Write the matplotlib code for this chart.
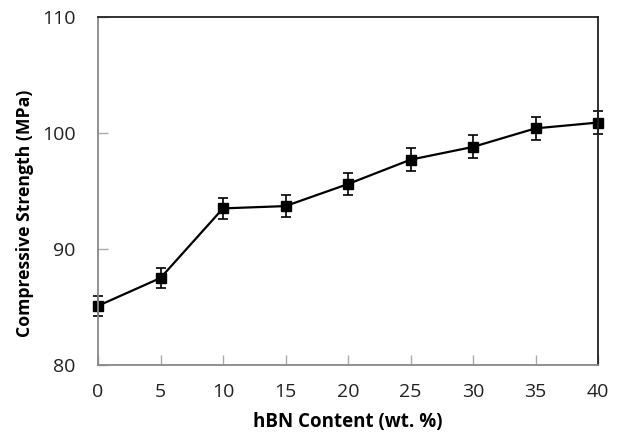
import matplotlib
matplotlib.use('Agg')
from matplotlib import pyplot as plt

# hBN content (wt. %) and compressive strength (MPa)
hbn = [0, 5, 10, 15, 20, 25, 30, 35, 40]
strength = [85.1, 87.5, 93.5, 93.7, 95.6, 97.7, 98.8, 100.4, 100.9]
err = [0.86, 0.85, 0.93, 0.93, 0.93, 0.98, 0.99, 0.98, 1.02]

x_ticks = [0, 5, 10, 15, 20, 25, 30, 35, 40]
y_ticks = [80, 90, 100, 110]

plt.rcParams['font.family'] = ['Open Sans', 'DejaVu Sans']

fig = plt.figure(figsize=(6.2, 4.36), dpi=100)
ax = fig.add_axes([98 / 620, 1 - 365 / 436, 500 / 620, 348 / 436])

ax.errorbar(hbn, strength, yerr=err, color='black', lw=1.6, marker='s', ms=7.5,
            ecolor='black', elinewidth=1.2, capsize=3.5, capthick=1.2)

ax.set_xlim(0, 40)
ax.set_ylim(80, 110)
ax.set_xticks(x_ticks)
ax.set_yticks(y_ticks)

# gray ticks pointing into the plot area
ax.tick_params(direction='in', length=7, width=1, color='#aaaaaa',
               labelsize=14, labelcolor='#222222')
ax.tick_params(axis='x', pad=13)
ax.tick_params(axis='y', pad=16)

# left/bottom are gray, top/right are dark
ax.spines['left'].set_color('#888888')
ax.spines['bottom'].set_color('#888888')
ax.spines['top'].set_color('#222222')
ax.spines['right'].set_color('#222222')
for s in ax.spines.values():
    s.set_linewidth(1.3)

ax.set_xlabel('hBN Content (wt. %)', fontsize=13.5, fontweight='bold', labelpad=8)
ax.set_ylabel('Compressive Strength (MPa)', fontsize=12.7, fontweight='bold')
# the y label sits a bit below the middle of the axis
ax.yaxis.set_label_coords(-0.128, 0.437)

for line in ax.lines:
    line.set_clip_on(False)
for c in ax.collections:
    c.set_clip_on(False)

plt.savefig('out.png', dpi=100)
